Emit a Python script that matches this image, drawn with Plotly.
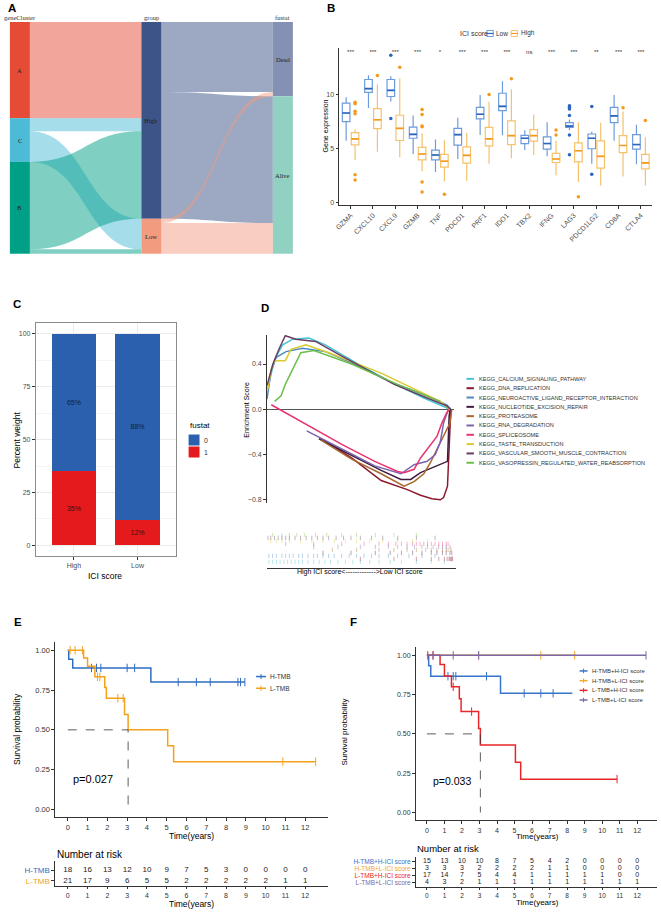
import plotly.graph_objects as go

W, H = 661, 913
SANS = "Liberation Sans, Arial, sans-serif"
SERIF = "Liberation Serif, Times New Roman, serif"


def px(x):
    return x / W


def py(y):
    return 1 - y / H


def rgba(hexcol, a):
    h = hexcol.lstrip("#")
    return "rgba(%d,%d,%d,%s)" % (int(h[0:2], 16), int(h[2:4], 16), int(h[4:6], 16), a)


# ---------------- A: alluvial geneCluster -> group -> fustat ----------------
node_names = ["A", "C", "B", "High", "Low", "Dead", "Alive"]
node_colors = ["#E64B35", "#4DBBD5", "#00A087", "#3C5488", "#F39B7F", "#8491B4", "#91D1C2"]
node_column = [0, 0, 0, 1, 1, 2, 2]
column_names = ["geneCluster", "group", "fustat"]
link_source = [0, 1, 1, 2, 2, 3, 3, 4, 4]
link_target = [3, 3, 4, 3, 4, 5, 6, 5, 6]
link_value = [22, 3, 7, 20, 1, 16, 29, 1, 7]

# ---------------- B: gene expression boxes ----------------
genes = ["GZMA", "CXCL10", "CXCL9", "GZMB", "TNF", "PDCD1", "PRF1", "IDO1", "TBX2",
         "IFNG", "LAG3", "PDCD1LG2", "CD8A", "CTLA4"]
sig_labels = ["***", "***", "***", "***", "*", "***", "***", "***", "ns", "***", "***", "**", "***", "***"]
b_groups = ["Low", "High"]
low_lower = [5.7, 8.73, 9.33, 4.48, 2.82, 4.03, 6.24, 6.21, 4.85, 4.27, 6.67, 3.58, 5.7, 3.55]
low_q1 = [7.48, 10.18, 9.79, 5.94, 3.94, 5.3, 7.73, 8.48, 5.45, 4.94, 6.94, 4.97, 7.39, 4.94]
low_median = [8.27, 10.52, 10.36, 6.3, 4.39, 6.27, 8.15, 8.88, 5.94, 5.45, 7.06, 5.94, 8.0, 5.36]
low_q3 = [9.18, 11.36, 11.36, 6.97, 4.85, 6.85, 8.79, 10.09, 6.21, 6.06, 7.39, 6.33, 8.79, 6.27]
low_upper = [9.73, 11.76, 11.67, 8.03, 5.82, 7.82, 9.94, 11.2, 6.67, 7.42, 7.67, 6.55, 9.94, 7.18]
high_lower = [3.9, 4.7, 4.18, 2.9, 1.97, 2.0, 3.58, 4.09, 4.39, 2.52, 1.91, 1.58, 2.42, 1.58]
high_q1 = [5.33, 6.82, 5.73, 3.94, 3.27, 3.64, 5.24, 5.36, 5.67, 3.7, 3.76, 3.18, 4.61, 3.12]
high_median = [5.88, 7.64, 6.85, 4.48, 3.82, 4.36, 5.88, 6.18, 6.18, 4.03, 4.79, 4.27, 5.27, 3.67]
high_q3 = [6.45, 8.67, 8.06, 5.09, 4.45, 5.15, 6.94, 7.55, 6.73, 4.55, 5.52, 5.7, 6.18, 4.45]
high_upper = [6.75, 10.9, 11.45, 6.4, 5.76, 6.45, 9.3, 10.45, 8.12, 5.7, 7.42, 7.36, 8.4, 6.03]
low_out_gene = [2, 2, 10, 10, 10, 10, 10, 10, 11, 11]
low_out_value = [13.6, 7.76, 8.94, 8.79, 8.64, 8.03, 6.24, 4.42, 8.88, 2.61]
high_out_gene = [0, 0, 0, 0, 0, 0, 1, 2, 3, 3, 3, 3, 3, 3, 4, 6, 7, 9, 9, 10, 12, 13]
high_out_value = [9.27, 9.12, 8.42, 8.21, 2.58, 2.09, 11.73, 12.5, 8.6, 8.12, 7.06, 7.0, 1.9,
                  0.97, 0.76, 9.97, 11.42, 6.7, 6.24, 0.55, 8.76, 7.58]

# ---------------- C: fustat share by ICI score ----------------
c_groups = ["High", "Low"]
alive_pct = [65, 88]
dead_pct = [35, 12]

# ---------------- D: GSEA running enrichment scores ----------------
gsea_names = ["KEGG_CALCIUM_SIGNALING_PATHWAY", "KEGG_DNA_REPLICATION",
              "KEGG_NEUROACTIVE_LIGAND_RECEPTOR_INTERACTION", "KEGG_NUCLEOTIDE_EXCISION_REPAIR",
              "KEGG_PROTEASOME", "KEGG_RNA_DEGRADATION", "KEGG_SPLICEOSOME", "KEGG_TASTE_TRANSDUCTION",
              "KEGG_VASCULAR_SMOOTH_MUSCLE_CONTRACTION", "KEGG_VASOPRESSIN_REGULATED_WATER_REABSORPTION"]
gsea_colors = ["#47C3D5", "#8B1A2E", "#4C89C3", "#3E1B3F", "#A8672B", "#7A63AE", "#E8346F",
               "#D8CB2E", "#6A3D62", "#6CBF4B"]
calcium_rank = [0.5, 2.3, 5, 8.5, 13.9, 22.7, 31.6, 49.4, 67.1, 84.9, 99.1]
calcium_es = [0.18, 0.32, 0.47, 0.57, 0.62, 0.63, 0.57, 0.40, 0.24, 0.10, 0.0]
dna_rank = [29, 45.8, 61.8, 76, 83.1, 89.3, 93.8, 95.6, 97.7, 98.8, 99.5]
dna_es = [-0.26, -0.43, -0.63, -0.71, -0.76, -0.79, -0.80, -0.78, -0.68, -0.32, 0.0]
neuro_rank = [0, 2.3, 5, 10.3, 19.2, 31.6, 45.8, 67.1, 86.7, 97.3, 99.5]
neuro_es = [0.09, 0.35, 0.46, 0.51, 0.54, 0.51, 0.41, 0.24, 0.12, 0.04, 0.0]
ner_rank = [28.1, 45.8, 61.8, 72.5, 77.8, 83.1, 90.2, 95.6, 97.7, 98.6, 99.1]
ner_es = [-0.26, -0.41, -0.54, -0.62, -0.62, -0.56, -0.51, -0.47, -0.46, -0.06, 0.0]
prot_rank = [29, 45.8, 61.8, 74.2, 79.6, 84.9, 88.5, 92, 95.6, 99.1, 100]
prot_es = [-0.27, -0.44, -0.57, -0.68, -0.64, -0.57, -0.47, -0.35, -0.24, -0.12, 0.0]
rna_rank = [21.5, 40.5, 58.3, 72.5, 79.6, 86.7, 91.1, 93.8, 95.6, 98.2]
rna_es = [-0.19, -0.35, -0.50, -0.57, -0.49, -0.46, -0.40, -0.29, -0.12, 0.0]
splice_rank = [2.3, 22.7, 40.5, 58.3, 70.7, 74.2, 79.6, 83.1, 88.5, 92, 94.7, 97.3, 98.8]
splice_es = [0.04, -0.15, -0.31, -0.46, -0.55, -0.56, -0.53, -0.43, -0.32, -0.24, -0.12, -0.03, 0.0]
taste_rank = [0.5, 2.3, 4.1, 9.9, 13, 21, 33.4, 61.8, 79.6, 93.8, 99.1]
taste_es = [0.18, 0.35, 0.43, 0.43, 0.53, 0.57, 0.50, 0.32, 0.18, 0.07, 0.0]
vascular_rank = [0, 3.2, 6.7, 9.9, 15.6, 26.3, 40.5, 68.9, 86.7, 97.3, 99.5]
vascular_es = [0.21, 0.40, 0.54, 0.65, 0.62, 0.60, 0.47, 0.22, 0.10, 0.03, 0.0]
vaso_rank = [4.1, 7.6, 9.9, 14.7, 18.3, 25.4, 45.8, 70.7, 93.8]
vaso_es = [0.07, 0.12, 0.22, 0.38, 0.50, 0.52, 0.40, 0.22, 0.07]
calcium_hits = [1, 3, 5, 7, 9, 11, 13, 15, 17, 19, 22, 25, 28, 31, 34, 38, 42, 46, 50, 55, 60, 66, 72, 80, 88, 95]
dna_hits = [50, 68, 80, 88, 92, 95, 96.5, 97.5, 98, 98.5, 99, 99.3]
neuro_hits = [1, 3, 5, 8, 10, 12, 14, 17, 19, 22, 25, 27, 30, 33, 36, 40, 44, 48, 52, 56, 60, 65, 70, 76, 83, 90]
ner_hits = [30, 45, 58, 66, 72, 78, 83, 88, 91, 94, 96, 98, 99]
prot_hits = [35, 48, 60, 68, 75, 80, 85, 88, 91, 94, 96, 97, 98.5]
rna_hits = [25, 38, 50, 58, 65, 70, 75, 79, 83, 86, 89, 92, 94, 96, 98]
splice_hits = [10, 25, 40, 52, 60, 65, 69, 72, 75, 78, 80, 82, 84, 86, 88, 90, 92, 94, 96, 97]
taste_hits = [2, 5, 8, 12, 18, 24, 30, 36, 42, 48, 55, 62, 70, 78, 86]
vascular_hits = [0.5, 2, 4, 6, 8, 10, 12, 15, 18, 21, 24, 27, 30, 33, 37, 41, 45, 50, 56, 62, 70, 80, 90]
vaso_hits = [3, 8, 12, 16, 20, 26, 32, 40, 48, 58, 68, 80]

# ---------------- E: KM by TMB ----------------
km_years = list(range(13))
e_names = ["H-TMB", "L-TMB"]
e_colors = ["#2F6DC3", "#F5A21B"]
htmb_time = [0, 0.05, 0.25, 4.2, 8.95]
htmb_surv = [1, 0.944, 0.889, 0.8, 0.8]
htmb_censor = [1.2, 1.45, 1.67, 3.0, 3.38, 5.58, 6.5, 7.2, 8.6, 8.73, 8.95]
ltmb_time = [0, 0.8, 1.0, 1.37, 1.87, 1.95, 2.87, 3.05, 5.05, 5.35, 12.53]
ltmb_surv = [1, 0.952, 0.9, 0.833, 0.766, 0.699, 0.596, 0.5, 0.4, 0.3, 0.3]
ltmb_censor = [0.12, 0.37, 0.75, 1.5, 1.62, 2.53, 2.8, 10.87, 12.53]
htmb_risk = [18, 16, 13, 12, 10, 9, 7, 5, 3, 0, 0, 0, 0]
ltmb_risk = [21, 17, 9, 6, 5, 5, 2, 2, 2, 2, 2, 1, 1]
e_pvalue = "p=0.027"

# ---------------- F: KM by TMB + ICI score ----------------
f_names = ["H-TMB+H-ICI score", "H-TMB+L-ICI score", "L-TMB+H-ICI score", "L-TMB+L-ICI score"]
f_colors = ["#3675C9", "#F5A623", "#E8262A", "#7B68A6"]
hh_time = [0, 0.1, 0.22, 4.2, 8.3]
hh_surv = [1, 0.933, 0.867, 0.758, 0.758]
hh_censor = [1.2, 1.5, 1.65, 3.4, 5.55, 6.5, 7.2]
hl_time = [0, 8.43]
hl_surv = [1, 1]
hl_censor = [2.96, 6.5, 8.43]
lh_time = [0, 0.75, 1.0, 1.4, 1.85, 1.95, 2.95, 3.05, 5.05, 5.35, 10.85]
lh_surv = [1, 0.941, 0.868, 0.8, 0.724, 0.642, 0.534, 0.43, 0.32, 0.212, 0.212]
lh_censor = [0.05, 0.35, 1.5, 2.55, 10.85]
ll_time = [0, 12.5]
ll_surv = [1, 1]
ll_censor = [0.35, 1.5, 2.95, 12.5]
hh_risk = [15, 13, 10, 10, 8, 7, 5, 4, 2, 0, 0, 0, 0]
hl_risk = [3, 3, 3, 2, 2, 2, 2, 1, 1, 0, 0, 0, 0]
lh_risk = [17, 14, 7, 5, 4, 4, 1, 1, 1, 1, 1, 0, 0]
ll_risk = [4, 3, 2, 1, 1, 1, 1, 1, 1, 1, 1, 1, 1]
f_pvalue = "p=0.033"

fig = go.Figure()
ann = []
shapes = []


def note(x, y, text, size=7, color="#000000", xanchor="center", yanchor="middle", angle=0,
         family=SANS, bold=False):
    if bold:
        text = "<b>%s</b>" % text
    ann.append(dict(x=px(x), y=py(y), xref="paper", yref="paper", text=text, showarrow=False,
                    xanchor=xanchor, yanchor=yanchor, textangle=angle, borderpad=0,
                    font=dict(size=size, color=color, family=family)))


def hline(x0, x1, y, col, w=1.5):
    shapes.append(dict(type="line", xref="paper", yref="paper", x0=px(x0), x1=px(x1),
                       y0=py(y), y1=py(y), line=dict(color=col, width=w)))


def vline(x, y0, y1, col, w=1):
    shapes.append(dict(type="line", xref="paper", yref="paper", x0=px(x), x1=px(x),
                       y0=py(y0), y1=py(y1), line=dict(color=col, width=w)))


# ---- A ----
node_value = []
for i in range(len(node_names)):
    out_v = sum(v for s, v in zip(link_source, link_value) if s == i)
    in_v = sum(v for t, v in zip(link_target, link_value) if t == i)
    node_value.append(max(out_v, in_v))
total = sum(v for v, c in zip(node_value, node_column) if c == 0)
sk_l, sk_r, sk_t, sk_b, thick = 5, 290, 22, 254, 20
col_px = [sk_l + thick / 2, (sk_l + sk_r) / 2, sk_r - thick / 2]
node_x, node_y, cum = [], [], [0, 0, 0]
for i, v in enumerate(node_value):
    c = node_column[i]
    mid = cum[c] + v / 2
    cum[c] += v
    node_x.append((col_px[c] - sk_l) / (sk_r - sk_l))
    node_y.append(mid / total)
    note(col_px[c], sk_t + mid / total * (sk_b - sk_t), node_names[i], size=6.5, color="#222222",
         family=SERIF)
for c, name in enumerate(column_names):
    note(col_px[c], 17.5, name, size=6.5, color="#333333", family=SERIF)

fig.add_trace(go.Sankey(
    domain=dict(x=[px(sk_l), px(sk_r)], y=[py(sk_b), py(sk_t)]),
    arrangement="fixed",
    textfont=dict(size=1, color="rgba(0,0,0,0)"),
    node=dict(label=node_names, color=node_colors, x=node_x, y=node_y, pad=0, thickness=thick,
              line=dict(width=0)),
    link=dict(source=link_source, target=link_target, value=link_value,
              color=[rgba(node_colors[s], 0.5) for s in link_source]),
))

# ---- B ----
b_off, b_w = 0.2, 0.34
b_light = ["#6D9BDC", "#F6C16B"]
b_dark = ["#2A66BE", "#F39A1E"]
for g, (sign, lf, q1, md, q3, uf) in enumerate([
        (-1, low_lower, low_q1, low_median, low_q3, low_upper),
        (1, high_lower, high_q1, high_median, high_q3, high_upper)]):
    xs = [i + sign * b_off for i in range(len(genes))]
    fig.add_trace(go.Box(x=xs, q1=q1, median=md, q3=q3, lowerfence=lf, upperfence=uf,
                         width=b_w, whiskerwidth=0, boxpoints=False, name=b_groups[g],
                         line=dict(color=b_light[g], width=1.2), fillcolor="white",
                         showlegend=False, xaxis="x", yaxis="y"))
    mx, my = [], []
    for x0, m in zip(xs, md):
        mx += [x0 - b_w / 2, x0 + b_w / 2, None]
        my += [m, m, None]
    fig.add_trace(go.Scatter(x=mx, y=my, mode="lines", line=dict(color=b_dark[g], width=1.6),
                             showlegend=False, hoverinfo="skip", xaxis="x", yaxis="y"))
fig.add_trace(go.Scatter(x=[g - b_off for g in low_out_gene], y=low_out_value, mode="markers",
                         marker=dict(color=b_dark[0], size=3.5), showlegend=False,
                         xaxis="x", yaxis="y"))
fig.add_trace(go.Scatter(x=[g + b_off for g in high_out_gene], y=high_out_value, mode="markers",
                         marker=dict(color=b_dark[1], size=3.5), showlegend=False,
                         xaxis="x", yaxis="y"))
fig.add_trace(go.Scatter(x=list(range(len(genes))), y=[13.85] * len(genes), mode="text",
                         text=sig_labels, textfont=dict(size=6, color="#333333"),
                         showlegend=False, xaxis="x", yaxis="y"))
note(323, 126, "Gene expression", size=7, angle=-90)
note(457, 33.5, "ICI score", size=7, xanchor="left", color="#333333")
for g, (x0, tx) in enumerate([(485.5, 494), (510, 518.5)]):
    shapes.append(dict(type="rect", xref="paper", yref="paper", x0=px(x0), x1=px(x0 + 6.5),
                       y0=py(36.5), y1=py(30.5), fillcolor="white",
                       line=dict(color=b_light[g], width=1)))
    hline(x0, x0 + 6.5, 33.5, b_dark[g], 1.2)
    note(tx, 33.5, b_groups[g], size=6.5, xanchor="left", color="#333333")

# ---- C ----
c_blue, c_red = "#2A60AD", "#E41A1C"
fig.add_trace(go.Bar(x=[1, 2], y=dead_pct, width=0.7, marker=dict(color=c_red, line=dict(width=0)),
                     text=["%d%%" % v for v in dead_pct], textposition="inside",
                     insidetextanchor="middle", constraintext="none",
                     textfont=dict(size=7, color="#3A1010"), showlegend=False,
                     xaxis="x2", yaxis="y2"))
fig.add_trace(go.Bar(x=[1, 2], y=alive_pct, width=0.7, marker=dict(color=c_blue, line=dict(width=0)),
                     text=["%d%%" % v for v in alive_pct], textposition="inside",
                     insidetextanchor="middle", constraintext="none",
                     textfont=dict(size=7, color="#10203A"), showlegend=False,
                     xaxis="x2", yaxis="y2"))
note(12, 440, "Percent weight", size=8.5, angle=-90)
note(101, 577, "ICI score", size=8.5)
note(185, 426, "fustat", size=8, xanchor="left")
for k, (lab, col) in enumerate([("0", c_blue), ("1", c_red)]):
    yc = 440.5 + 12 * k
    shapes.append(dict(type="rect", xref="paper", yref="paper", x0=px(185), x1=px(196),
                       y0=py(yc + 5.5), y1=py(yc - 5.5), fillcolor=col, line=dict(width=0)))
    note(200, yc, lab, size=7, xanchor="left", color="#333333")

# ---- D ----
es_sets = [(calcium_rank, calcium_es, calcium_hits), (dna_rank, dna_es, dna_hits),
           (neuro_rank, neuro_es, neuro_hits), (ner_rank, ner_es, ner_hits),
           (prot_rank, prot_es, prot_hits), (rna_rank, rna_es, rna_hits),
           (splice_rank, splice_es, splice_hits), (taste_rank, taste_es, taste_hits),
           (vascular_rank, vascular_es, vascular_hits), (vaso_rank, vaso_es, vaso_hits)]
for k, (rk, es, hits) in enumerate(es_sets):
    fig.add_trace(go.Scatter(x=rk, y=es, mode="lines", line=dict(color=gsea_colors[k], width=1.5),
                             showlegend=False, xaxis="x3", yaxis="y3"))
    fig.add_trace(go.Scatter(x=hits, y=[k] * len(hits), mode="markers",
                             marker=dict(symbol="line-ns", size=3.2,
                                         line=dict(color=rgba(gsea_colors[k], 0.55), width=0.7)),
                             showlegend=False, xaxis="x4", yaxis="y4"))
    yc = 379.3 + 9.33 * k
    hline(465, 472.5, yc, gsea_colors[k], 2)
    note(476.5, yc, gsea_names[k], size=5.6, xanchor="left", color="#333333")
note(243, 410, "Enrichment Score", size=7, angle=-90)
note(358, 572.5, "High ICI score&lt;-------------&gt;Low ICI score", size=7)


# ---- E & F ----
def surv_at(times, surv, t):
    s = surv[0]
    for ti, si in zip(times, surv):
        if ti <= t:
            s = si
    return s


def km(xa, ya, times, surv, censor, col):
    fig.add_trace(go.Scatter(x=times, y=surv, mode="lines", line=dict(color=col, width=1.5, shape="hv"),
                             showlegend=False, xaxis=xa, yaxis=ya))
    fig.add_trace(go.Scatter(x=censor, y=[surv_at(times, surv, t) for t in censor], mode="markers",
                             marker=dict(symbol="line-ns", size=6, line=dict(color=col, width=1)),
                             showlegend=False, xaxis=xa, yaxis=ya))


def median_line(xa, ya, times, surv):
    tm = next(t for t, s in zip(times, surv) if s <= 0.5)
    fig.add_trace(go.Scatter(x=[0, tm, tm], y=[0.5, 0.5, 0], mode="lines",
                             line=dict(color="#333333", width=0.8, dash="dash"),
                             showlegend=False, xaxis=xa, yaxis=ya))


km("x5", "y5", htmb_time, htmb_surv, htmb_censor, e_colors[0])
km("x5", "y5", ltmb_time, ltmb_surv, ltmb_censor, e_colors[1])
median_line("x5", "y5", ltmb_time, ltmb_surv)
for row, risk in [(1, htmb_risk), (0, ltmb_risk)]:
    fig.add_trace(go.Scatter(x=km_years, y=[row] * len(km_years), mode="text",
                             text=[str(v) for v in risk], textfont=dict(size=8, color="#222222"),
                             showlegend=False, xaxis="x6", yaxis="y6"))
for k in range(2):
    yc = 677.3 + 11.7 * k
    hline(253, 263, yc, e_colors[k], 1.5)
    vline(258, yc - 2.5, yc + 2.5, e_colors[k], 1)
    note(266, yc, e_names[k], size=6.5, xanchor="left", color="#333333")
note(12, 730, "Survival probability", size=8.5, angle=-90)
note(188, 837, "Time(years)", size=8.5)
note(68, 780, e_pvalue, size=11, xanchor="left")
note(51, 855, "Number at risk", size=10, xanchor="left")
note(188, 904.5, "Time(years)", size=8.5)

for (t, s, c), col in zip([(hh_time, hh_surv, hh_censor), (hl_time, hl_surv, hl_censor),
                           (lh_time, lh_surv, lh_censor), (ll_time, ll_surv, ll_censor)], f_colors):
    km("x7", "y7", t, s, c, col)
median_line("x7", "y7", lh_time, lh_surv)
for row, risk in [(3, hh_risk), (2, hl_risk), (1, lh_risk), (0, ll_risk)]:
    fig.add_trace(go.Scatter(x=km_years, y=[row] * len(km_years), mode="text",
                             text=[str(v) for v in risk], textfont=dict(size=7, color="#222222"),
                             showlegend=False, xaxis="x8", yaxis="y8"))
for k in range(4):
    yc = 671.7 + 9.7 * k
    hline(579, 587, yc, f_colors[k], 1.5)
    vline(583, yc - 2.2, yc + 2.2, f_colors[k], 1)
    note(590, yc, f_names[k], size=6, xanchor="left", color="#333333")
note(342, 733, "Survival probability", size=8, angle=-90)
note(537, 837, "Time(years)", size=8)
note(430, 782, f_pvalue, size=10.5, xanchor="left")
note(414, 849, "Number at risk", size=9.5, xanchor="left")
note(537, 903, "Time(years)", size=8)

# panel letters
for letter, x, y in [("A", 2, 1), ("B", 323, 1), ("C", 7, 297), ("D", 257, 301), ("E", 8, 616),
                     ("F", 347, 616)]:
    note(x, y, letter, size=11.5, xanchor="left", yanchor="top", bold=True)


def ax(dom, rng, **kw):
    d = dict(domain=dom, range=rng, showline=True, linecolor="#333333", linewidth=0.8,
             ticks="outside", ticklen=3, tickwidth=0.8, tickcolor="#333333",
             tickfont=dict(size=7, color="#4D4D4D", family=SANS), showgrid=False, zeroline=False)
    d.update(kw)
    return d


def colored(names, cols):
    return ['<span style="color:%s">%s</span>' % (c, n) for n, c in zip(names, cols)]


fig.update_layout(
    width=W, height=H, margin=dict(l=0, r=0, t=0, b=0), paper_bgcolor="white",
    plot_bgcolor="rgba(0,0,0,0)", font=dict(family=SANS), barmode="stack", boxmode="overlay",
    annotations=ann, shapes=shapes, showlegend=False,
    xaxis=ax([px(337), px(652)], [-0.5, 13.5], tickvals=list(range(len(genes))), ticktext=genes,
             tickangle=-45, anchor="y"),
    yaxis=ax([py(205), py(47.7)], [-0.2, 14.3], tickvals=[0, 5, 10], anchor="x"),
    xaxis2=ax([px(31), px(172)], [0.4, 2.6], tickvals=[1, 2], ticktext=c_groups, mirror=True,
              linecolor="#8C8C8C", showgrid=True, gridcolor="#EBEBEB", anchor="y2"),
    yaxis2=ax([py(556.7), py(323.3)], [-5, 105], tickvals=[0, 25, 50, 75, 100], mirror=True,
              linecolor="#8C8C8C", showgrid=True, gridcolor="#EBEBEB",
              minor=dict(tickvals=[12.5, 37.5, 62.5, 87.5], showgrid=True, gridcolor="#F5F5F5",
                         ticks=""), anchor="x2"),
    xaxis3=dict(domain=[px(264), px(452)], range=[0, 101], visible=False, anchor="y3"),
    yaxis3=ax([py(503.3), py(335)], [-0.826, 0.66], tickvals=[-0.8, -0.4, 0, 0.4], tickformat=".1f",
              zeroline=True, zerolinecolor="#555555", zerolinewidth=1, anchor="x3"),
    xaxis4=ax([px(264), px(454)], [0, 101], showticklabels=False, ticks="", anchor="y4"),
    yaxis4=dict(domain=[py(568.3), py(533)], range=[-1.93, 9.83], visible=False, anchor="x4"),
    xaxis5=ax([px(50.7), px(325)], [-0.63, 13.13], tickvals=km_years, anchor="y5",
              tickfont=dict(size=7.5, color="#333333")),
    yaxis5=ax([py(818.3), py(643)], [-0.05, 1.05], tickvals=[0, 0.25, 0.5, 0.75, 1],
              tickformat=".2f", anchor="x5", tickfont=dict(size=7.5, color="#333333")),
    xaxis6=ax([px(50.7), px(325)], [-0.63, 13.13], tickvals=km_years, anchor="y6", ticklen=2,
              tickfont=dict(size=7, color="#333333")),
    yaxis6=ax([py(887.3), py(862)], [-0.52, 1.84], tickvals=[1, 0], ticktext=colored(e_names, e_colors),
              anchor="x6", tickfont=dict(size=8)),
    xaxis7=ax([px(414), px(657)], [-0.63, 13.13], tickvals=km_years, anchor="y7",
              tickfont=dict(size=7, color="#333333")),
    yaxis7=ax([py(821.2), py(648.2)], [-0.05, 1.05], tickvals=[0, 0.25, 0.5, 0.75, 1],
              tickformat=".2f", anchor="x7", tickfont=dict(size=7, color="#333333")),
    xaxis8=ax([px(414), px(657)], [-0.63, 13.13], tickvals=km_years, anchor="y8", ticklen=2,
              tickfont=dict(size=6.5, color="#333333")),
    yaxis8=ax([py(888.3), py(858)], [-0.73, 3.68], tickvals=[3, 2, 1, 0],
              ticktext=colored(f_names, f_colors), anchor="x8", tickfont=dict(size=6.5)),
)
# the page body keeps a default margin; drop it so the figure sits at the window's top-left
fig.write_html("out.html", config={"displayModeBar": False},
               post_script="document.body.style.margin='0';")
